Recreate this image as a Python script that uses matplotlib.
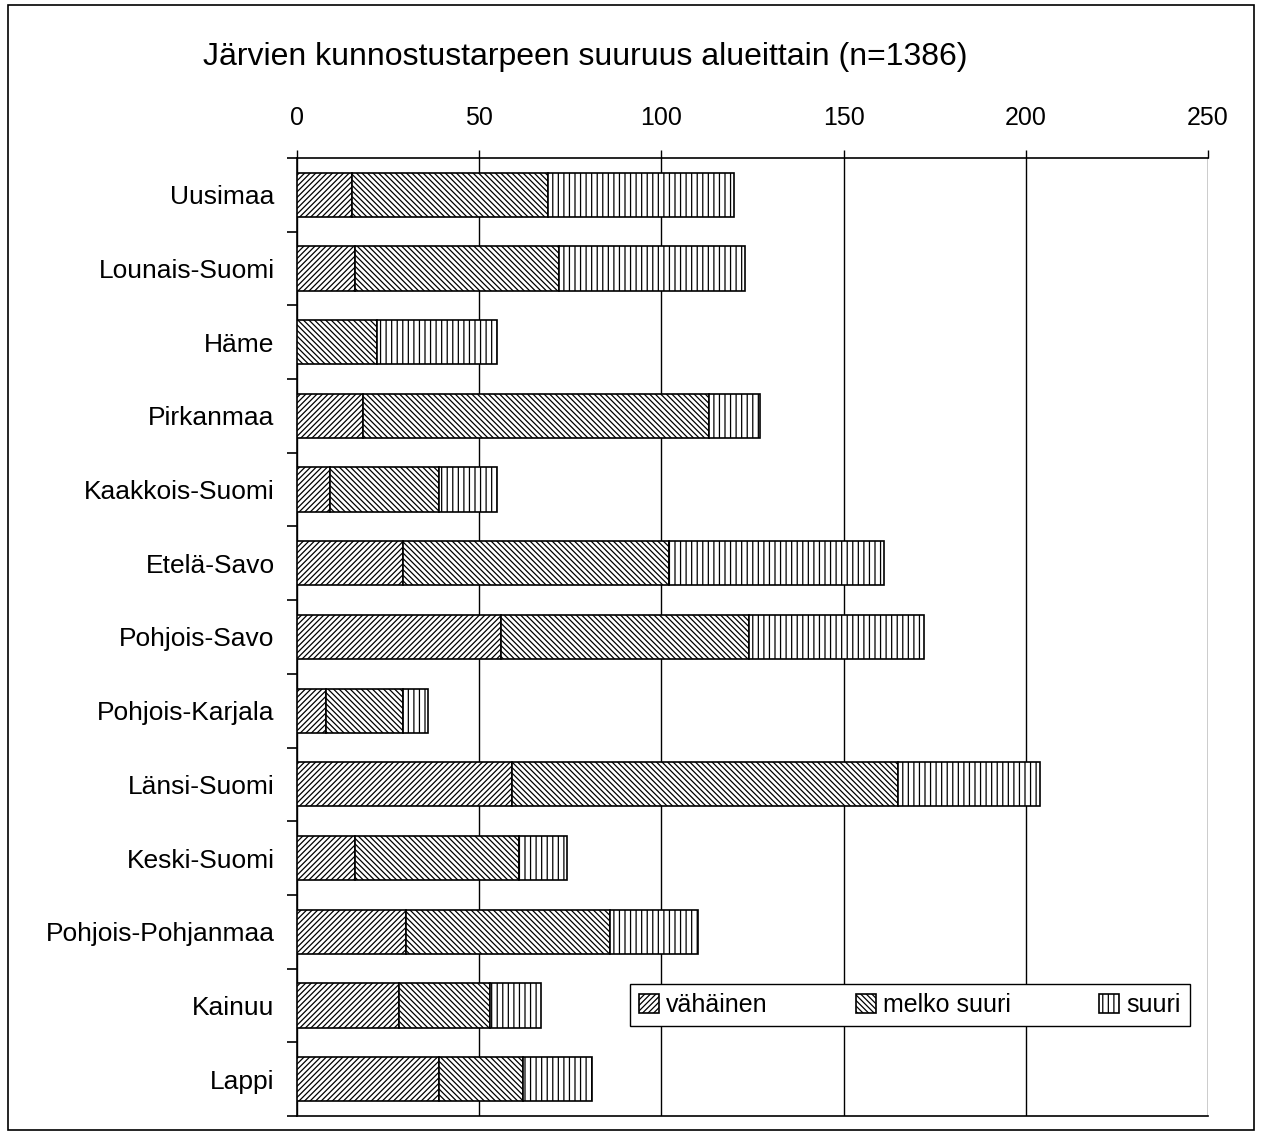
import numpy as np
import matplotlib
matplotlib.use("Agg")
import matplotlib.pyplot as plt
from matplotlib.patches import Rectangle

# Data
regions = ["Uusimaa", "Lounais-Suomi", "Häme", "Pirkanmaa", "Kaakkois-Suomi",
           "Etelä-Savo", "Pohjois-Savo", "Pohjois-Karjala", "Länsi-Suomi",
           "Keski-Suomi", "Pohjois-Pohjanmaa", "Kainuu", "Lappi"]
vahainen = [15, 16, 0, 18, 9, 29, 56, 8, 59, 16, 30, 28, 39]
melko_suuri = [54, 56, 22, 95, 30, 73, 68, 21, 106, 45, 56, 25, 23]
suuri = [51, 51, 33, 14, 16, 59, 48, 7, 39, 13, 24, 14, 19]
series_names = ["vähäinen", "melko suuri", "suuri"]
xticks = [0, 50, 100, 150, 200, 250]

plt.rcParams['font.family'] = ['Liberation Sans', 'DejaVu Sans']
plt.rcParams['hatch.linewidth'] = 0.9

fig = plt.figure(figsize=(12.62, 11.33), dpi=100)
ax = fig.add_axes([0.2353, 0.015, 0.7219, 0.8456])

y = np.arange(len(regions))
v = np.array(vahainen)
m = np.array(melko_suuri)
s = np.array(suuri)
h = 0.6

ax.barh(y, v, height=h, color='white', edgecolor='black', hatch='//////',
        linewidth=1.2, label=series_names[0], zorder=3)
ax.barh(y, m, left=v, height=h, color='white', edgecolor='black', hatch='\\\\\\\\\\\\',
        linewidth=1.2, label=series_names[1], zorder=3)
ax.barh(y, s, left=v + m, height=h, color='white', edgecolor='black', hatch='|||',
        linewidth=1.2, label=series_names[2], zorder=3)

ax.set_xlim(0, 250)
ax.set_ylim(len(regions) - 0.5, -0.5)
ax.set_xticks(xticks)
ax.xaxis.tick_top()
ax.tick_params(axis='x', length=6, pad=14, labelsize=18, width=1)
ax.set_yticks(y)
ax.set_yticklabels(regions)
ax.set_yticks(np.arange(len(regions) + 1) - 0.5, minor=True)
ax.tick_params(axis='y', which='major', length=0, pad=16, labelsize=19)
ax.tick_params(axis='y', which='minor', length=7, width=1.2)
ax.grid(axis='x', color='black', linewidth=1, zorder=0)
for sp in ['top', 'left', 'bottom']:
    ax.spines[sp].set_linewidth(1.2)
ax.spines['right'].set_visible(False)

ax.legend(loc='lower left', bbox_to_anchor=(0.3655, 0.094, 0.6145, 0.043),
          mode='expand', ncol=3, fancybox=False, framealpha=1, edgecolor='black',
          fontsize=18, handlelength=0.8, handleheight=0.8, handletextpad=0.3,
          borderpad=0.35, columnspacing=1.0, borderaxespad=0)

fig.text(0.4635, 0.950, "Järvien kunnostustarpeen suuruus alueittain (n=1386)",
         ha='center', va='center', fontsize=23)

fig.patches.append(Rectangle((0.006, 0.003), 0.988, 0.993, transform=fig.transFigure,
                             fill=False, edgecolor='black', linewidth=1.2))

fig.savefig("out.png", dpi=100)
